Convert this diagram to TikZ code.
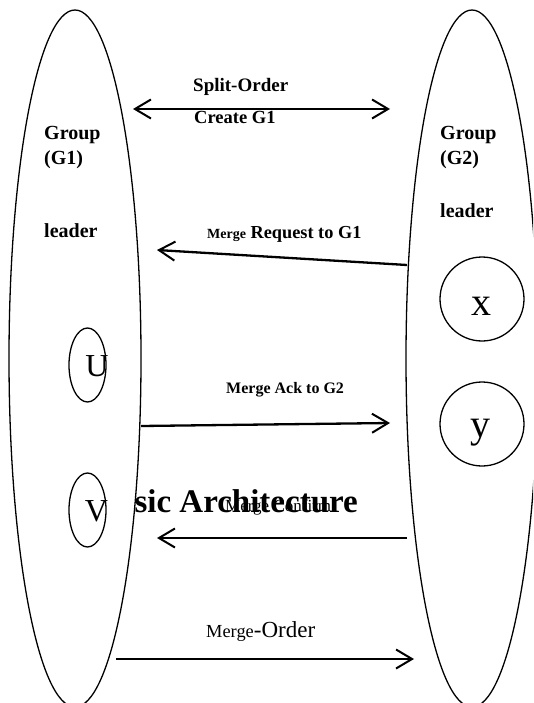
\documentclass[tikz,border=0pt]{standalone}
\usepackage{fontspec}
\setmainfont{Liberation Serif}
\usetikzlibrary{arrows.meta,shapes.geometric}
\begin{document}
\begin{tikzpicture}[x=1pt,y=-1pt,
  grp/.style={ellipse,draw,line width=1.3pt,fill=white,inner sep=0pt,minimum width=132pt,minimum height=697pt},
  mem/.style={ellipse,draw,line width=1.3pt,inner sep=0pt,minimum width=37pt,minimum height=74pt},
  circ/.style={circle,draw,line width=1.3pt,inner sep=0pt,minimum size=84pt},
  lbl/.style={anchor=base west,inner sep=0pt,font=\fontsize{20}{24}\selectfont\bfseries},
  msgtxt/.style={anchor=base west,inner sep=0pt},
  letter/.style={anchor=base,inner sep=0pt},
  barb/.tip={Straight Barb[length=16pt,width=19pt,line width=2pt]},
  msg/.style={line width=2.3pt,-barb},
]
\useasboundingbox (0,0) rectangle (533,703);
\clip (0,0) rectangle (533,703);
% title (partly hidden by the left group)
\node[anchor=base east,inner sep=0pt,font=\fontsize{33}{38}\selectfont\bfseries] (title) at (358,512) {Basic Architecture};
% groups
\node[grp] (g1) at (75,358.5) {};
\node[grp] (g2) at (472,358.5) {};
% members
\node[mem] (mu) at (87.5,365) {};
\node[mem] (mv) at (87.5,510) {};
\node[circ] (mx) at (482,299) {};
\node[circ] (my) at (482,424) {};
\node[letter,font=\fontsize{32}{36}\selectfont] (lu) at (97,376) {U};
\node[letter,font=\fontsize{32}{36}\selectfont] (lv) at (96.5,521) {V};
\node[letter,font=\fontsize{40}{44}\selectfont] (lx) at (481,315) {x};
\node[letter,font=\fontsize{40}{44}\selectfont] (ly) at (480,437) {y};
% group labels
\node[lbl] (g1a) at (44,140) {Group};
\node[lbl] (g1b) at (44,165) {(G1)};
\node[lbl] (g1c) at (44,237) {leader};
\node[lbl] (g2a) at (440,140) {Group};
\node[lbl] (g2b) at (440,165) {(G2)};
\node[lbl] (g2c) at (440,218) {leader};
% message labels
\node[msgtxt,font=\fontsize{19}{22}\selectfont\bfseries] (t1) at (193,92) {Split-Order};
\node[msgtxt,font=\fontsize{18.5}{22}\selectfont\bfseries] (t2) at (194,124) {Create G1};
\node[msgtxt,font=\fontsize{18.3}{22}\selectfont\bfseries] (t3) at (207,238) {{\fontsize{14}{16}\selectfont Merge} Request to G1};
\node[msgtxt,font=\fontsize{16}{19}\selectfont\bfseries] (t4) at (226,393) {Merge Ack to G2};
\node[msgtxt,font=\fontsize{17}{20}\selectfont] (t5) at (225,511) {Merge Confirm};
\node[msgtxt,font=\fontsize{23}{26}\selectfont] (t6) at (206,637) {{\fontsize{18.4}{20}\selectfont Merge}-Order};
% connector end points
\coordinate (s1) at (133,109);
\coordinate (s2) at (390,109);
\coordinate (r1) at (407,265);
\coordinate (r2) at (157,250);
\coordinate (a1) at (141,426);
\coordinate (a2) at (390,423);
\coordinate (c1) at (407,538);
\coordinate (c2) at (157,538);
\coordinate (o1) at (116,659);
\coordinate (o2) at (414,659);
% connectors
\draw[line width=2.3pt,barb-barb] (s1) -- (s2);
\draw[msg] (r1) -- (r2);
\draw[msg] (a1) -- (a2);
\draw[msg] (c1) -- (c2);
\draw[msg] (o1) -- (o2);
\end{tikzpicture}
\end{document}
